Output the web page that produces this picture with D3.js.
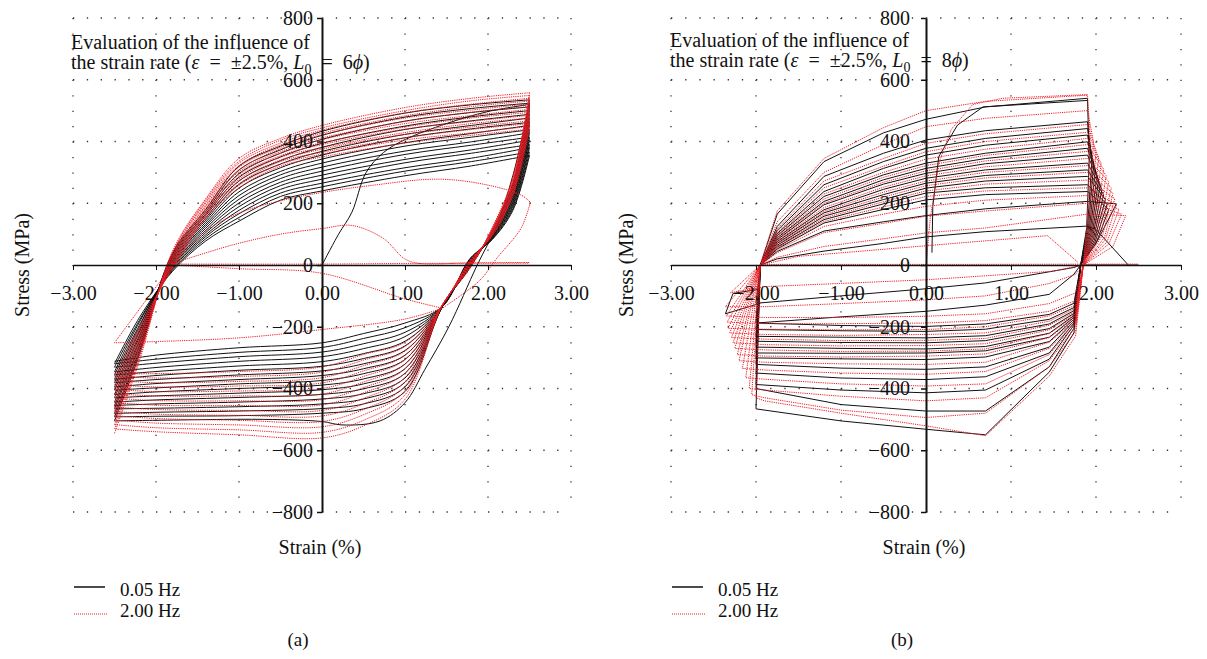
<!DOCTYPE html>
<html>
<head>
<meta charset="utf-8">
<script src="https://cdn.jsdelivr.net/npm/d3@7.9.0/dist/d3.min.js"></script>
<style>
  body { margin: 0; background: #fff; }
  svg text { font-family: "Liberation Serif", "DejaVu Serif", serif; fill: #111; }
</style>
</head>
<body>
<svg id="chart" width="1207" height="659"></svg>
<script>
const strainTicks = [-3, -2, -1, 0, 1, 2, 3];
const stressTicks = [-800, -600, -400, -200, 0, 200, 400, 600, 800];
const legendLabels = ['0.05 Hz', '2.00 Hz'];

// ---- panel (a), L0 = 6phi : stress (MPa) read at fixed strain stations (%)
const upStrainA = [-2.5, -2.2, -1.8, -1.4, -1.0, -0.5, 0, 1.0, 1.8, 2.5];
const downStrainA = [2.5, 2.3, 2.05, 1.78, 1.45, 1.0, 0.5, 0, -1.0, -2.0, -2.5];

const blackUpA = [
  [-505, -290, 40, 180, 320, 385, 433, 492, 519, 535],
  [-492, -281, 36, 173, 308, 373, 420, 479, 507, 524],
  [-481, -275, 32, 166, 296, 362, 407, 466, 494, 512],
  [-466, -265, 28, 160, 284, 350, 394, 450, 480, 500],
  [-455, -259, 24, 153, 272, 338, 381, 439, 467, 488],
  [-444, -249, 20, 146, 261, 327, 368, 423, 452, 476],
  [-430, -243, 16, 139, 249, 315, 356, 412, 441, 462],
  [-420, -233, 12, 132, 237, 303, 343, 396, 426, 452],
  [-405, -227, 8, 126, 225, 292, 330, 385, 414, 438],
  [-395, -217, 4, 119, 213, 280, 317, 369, 399, 428],
  [-381, -211, 0, 112, 201, 268, 304, 358, 388, 414],
  [-370, -201, -4, 105, 189, 257, 291, 342, 373, 404],
  [-356, -195, -8, 98, 177, 245, 278, 331, 362, 390],
  [-346, -185, -12, 92, 166, 233, 265, 315, 346, 380],
  [-331, -179, -16, 85, 154, 222, 253, 304, 335, 366],
  [-320, -170, -20, 78, 142, 210, 240, 289, 321, 355]
];
const blackDownA = [
  [535, 265, 112, -10, -135, -410, -466, -480, -488, -490, -492],
  [524, 262, 110, -8, -135, -395, -450, -465, -473, -477, -481],
  [512, 256, 108, -6, -135, -380, -434, -450, -459, -464, -466],
  [500, 250, 106, -4, -135, -366, -417, -434, -444, -450, -455],
  [488, 244, 104, -2, -135, -351, -401, -419, -429, -437, -444],
  [476, 238, 102, 0, -135, -336, -385, -404, -415, -424, -430],
  [462, 231, 100, 2, -135, -321, -369, -389, -400, -411, -420],
  [452, 226, 98, 4, -135, -306, -352, -374, -385, -398, -405],
  [438, 219, 96, 6, -135, -292, -336, -358, -371, -384, -395],
  [428, 214, 94, 8, -135, -277, -320, -343, -356, -371, -381],
  [414, 207, 92, 10, -135, -262, -303, -328, -341, -358, -370],
  [404, 202, 90, 12, -135, -247, -287, -313, -327, -345, -356],
  [390, 195, 88, 14, -135, -232, -271, -297, -312, -332, -346],
  [380, 190, 86, 16, -135, -218, -255, -282, -297, -318, -331],
  [366, 183, 84, 18, -135, -203, -238, -267, -283, -305, -320],
  [355, 177, 82, 20, -135, -188, -222, -252, -268, -292, -312]
];
const redUpA = [
  [-545, -310, 45, 215, 345, 410, 452, 510, 540, 558],
  [-531, -301, 41, 211, 336, 404, 444, 500, 532, 549],
  [-517, -293, 37, 205, 330, 395, 437, 493, 521, 540],
  [-502, -284, 33, 201, 322, 389, 427, 483, 513, 531],
  [-488, -276, 28, 194, 317, 381, 422, 476, 502, 522],
  [-474, -267, 24, 190, 307, 376, 412, 465, 495, 513],
  [-460, -259, 20, 184, 302, 367, 406, 458, 484, 504],
  [-445, -250, 16, 181, 293, 362, 396, 447, 476, 494],
  [-431, -242, 11, 174, 287, 354, 390, 440, 465, 485],
  [-417, -233, 7, 171, 278, 349, 380, 429, 458, 476],
  [-403, -225, 3, 164, 273, 340, 375, 423, 447, 467],
  [-388, -216, -2, 161, 263, 335, 365, 412, 439, 458],
  [-374, -208, -6, 154, 258, 326, 359, 405, 428, 449],
  [-360, -200, -10, 150, 250, 320, 350, 395, 420, 440]
];
const redDownA = [
  [558, 285, 120, -12, -130, -435, -521, -560, -550, -540, -531],
  [549, 280, 118, -10, -130, -421, -503, -542, -534, -527, -517],
  [540, 276, 116, -8, -130, -407, -485, -524, -518, -512, -502],
  [531, 271, 114, -6, -130, -392, -468, -507, -503, -497, -488],
  [522, 266, 112, -4, -130, -378, -450, -489, -487, -483, -474],
  [513, 262, 110, -2, -130, -364, -432, -471, -471, -468, -460],
  [504, 257, 108, 0, -130, -350, -414, -453, -455, -454, -445],
  [494, 252, 106, 2, -130, -336, -397, -436, -440, -439, -431],
  [485, 247, 104, 4, -130, -321, -379, -418, -424, -424, -417],
  [476, 243, 102, 6, -130, -307, -361, -400, -408, -410, -403],
  [467, 238, 100, 8, -130, -293, -343, -382, -392, -395, -388],
  [458, 233, 98, 10, -130, -279, -326, -365, -377, -381, -374],
  [449, 229, 96, 12, -130, -264, -308, -347, -361, -366, -360],
  [440, 224, 94, 14, -130, -250, -290, -330, -345, -352, -352]
];
// first loading and first reversal, plus the odd early 2 Hz traces
const blackExtraA = [
  [[0, 0], [0.2, 100], [0.36, 171], [0.53, 299], [0.74, 364], [1.0, 406], [1.5, 458], [2.0, 497], [2.5, 520]],
  [[2.5, 520], [2.3, 290], [2.1, 125], [1.87, 0], [1.53, -199], [1.24, -338], [1.0, -446], [0.7, -505], [0.24, -518], [0, -507], [-0.7, -500], [-2.0, -503], [-2.5, -505]]
];
const redExtraA = [
  [[1.45, -140], [1.0, -175], [0, -209], [-1.0, -236], [-2.0, -248], [-2.5, -252]],
  [[-2.5, -252], [-2.15, -125], [-1.8, 0]],
  [[-1.8, 0], [-1.4, 110], [-1.0, 168], [-0.5, 208], [0, 235], [0.575, 257], [1.41, 278], [2.03, 257], [2.41, 225], [2.51, 203]],
  [[2.51, 203], [2.4, 120], [2.1, 20], [1.9, -50], [1.45, -140]],
  [[-1.8, 5], [-1.09, 64], [-0.5, 100], [0, 118], [0.36, 128], [0.74, 86], [0.99, 21], [1.15, 6], [1.8, 7], [2.5, 8]],
  [[-1.8, 0], [-1.0, -12], [0, -27], [1.0, -110], [1.45, -140]],
  [[-1.8, 3], [0, 3], [1.0, 5], [2.5, 6]]
];

// ---- panel (b), L0 = 8phi : polyline vertices
const upStrainB = [-1.95, -1.75, -1.2, -0.5, 0, 0.7, 1.9];
const downStrainBlackB = [1.82, 1.74, 1.45, 0.7, 0, -1.0, -2.0];
const downStrainRedB = [1.85, 1.76, 1.45, 0.7, 0, -1.0, -1.9];

const blackUpB = [
  [0, 165, 335, 428, 472, 512, 540],
  [0, 125, 287, 362, 405, 435, 464],
  [0, 112, 260, 335, 378, 410, 442],
  [0, 102, 238, 313, 356, 388, 421],
  [0, 95, 222, 292, 330, 362, 399],
  [0, 88, 206, 276, 313, 345, 378],
  [0, 82, 195, 262, 297, 328, 356],
  [0, 76, 179, 245, 281, 308, 330],
  [0, 70, 169, 228, 265, 290, 308],
  [0, 64, 158, 212, 249, 272, 287],
  [0, 58, 147, 198, 233, 250, 260],
  [0, 52, 136, 180, 211, 228, 238],
  [0, 44, 110, 140, 160, 182, 206],
  [0, 20, 45, 70, 91, 108, 126]
];
// peak tip [strain, stress] and knee on the way back [strain, stress]
const blackTipB = [
  [1.92, 340, 1.89, 120], [1.95, 330, 1.90, 120], [1.97, 320, 1.91, 115],
  [1.99, 305, 1.92, 110], [2.01, 290, 1.93, 105], [2.03, 275, 1.94, 100],
  [2.05, 260, 1.95, 95], [2.07, 245, 1.96, 90], [2.09, 228, 1.97, 85],
  [2.11, 212, 1.98, 80], [2.13, 196, 1.99, 75], [2.15, 180, 2.00, 70],
  [2.24, 198, 2.02, 80], [2.00, 115, 2.38, 0]
];
const blackDownB = [
  [0, -220, -347, -550, -532, -505, -466],
  [0, -205, -330, -473, -473, -452, -400],
  [0, -195, -305, -405, -414, -405, -387],
  [0, -188, -285, -362, -371, -366, -350],
  [0, -182, -266, -330, -338, -334, -322],
  [0, -176, -248, -298, -306, -304, -301],
  [0, -170, -234, -278, -285, -286, -285],
  [0, -164, -221, -264, -272, -270, -266],
  [0, -157, -206, -245, -252, -251, -247],
  [0, -148, -191, -229, -236, -234, -231],
  [0, -138, -176, -208, -215, -213, -209],
  [0, -124, -160, -191, -199, -196, -188],
  [0, -30, -95, -130, -150, -168, -188],
  [0, -8, -22, -58, -77, -100, -124]
];
const redUpB = [
  [0, 175, 345, 445, 500, 530, 550],
  [0, 140, 300, 390, 448, 475, 500],
  [0, 118, 272, 345, 394, 425, 455],
  [0, 106, 250, 320, 367, 400, 430],
  [0, 98, 230, 300, 343, 375, 410],
  [0, 91, 214, 284, 322, 355, 390],
  [0, 85, 200, 268, 305, 337, 368],
  [0, 79, 186, 252, 289, 318, 345],
  [0, 73, 174, 236, 272, 300, 322],
  [0, 67, 163, 220, 257, 282, 300],
  [0, 61, 152, 205, 240, 262, 275],
  [0, 55, 141, 188, 222, 240, 250],
  [0, 48, 125, 165, 190, 210, 225],
  [0, 40, 105, 135, 158, 175, 200],
  [0, 25, 60, 85, 104, 120, 165]
];
const redTipB = [
  [1.93, 420, 1.90, 150], [1.97, 400, 1.92, 150], [2.00, 370, 1.94, 140],
  [2.03, 350, 1.96, 135], [2.06, 330, 1.98, 130], [2.09, 310, 2.00, 125],
  [2.12, 290, 2.02, 120], [2.15, 270, 2.04, 112], [2.18, 250, 2.06, 105],
  [2.20, 232, 2.08, 98], [2.22, 215, 2.10, 90], [2.24, 195, 2.11, 82],
  [2.27, 180, 2.13, 75], [2.30, 165, 2.15, 68], [2.35, 160, 2.20, 60]
];
const redDownB = [
  [0, -230, -360, -553, -521, -480, -440],
  [0, -215, -330, -480, -494, -470, -430],
  [0, -200, -310, -430, -440, -425, -405],
  [0, -190, -290, -385, -392, -385, -370],
  [0, -185, -270, -345, -354, -350, -340],
  [0, -178, -250, -315, -322, -320, -315],
  [0, -172, -235, -288, -295, -298, -295],
  [0, -165, -222, -272, -279, -280, -275],
  [0, -158, -210, -255, -261, -262, -258],
  [0, -150, -195, -238, -244, -245, -240],
  [0, -140, -182, -220, -225, -228, -225],
  [0, -130, -165, -200, -209, -210, -208],
  [0, -115, -150, -180, -188, -190, -190],
  [0, -90, -125, -158, -166, -170, -170],
  [0, -30, -60, -100, -113, -125, -135]
];
const redLeftTipB = [
  [-2.0, -430], [-2.05, -420], [-2.08, -400], [-2.12, -365], [-2.16, -335],
  [-2.2, -310], [-2.22, -290], [-2.25, -270], [-2.27, -252], [-2.29, -235],
  [-2.31, -220], [-2.33, -205], [-2.34, -185], [-2.35, -165], [-2.36, -135]
];
const blackExtraB = [
  [[0.07, 40], [0.08, 190], [0.15, 351], [0.37, 453], [0.67, 512], [1.9, 533]],
  [[2.38, 0], [2.5, 0]],
  [[-1.95, -124], [-2.36, -158], [-2.27, -92], [-1.95, -78]]
];
const redExtraB = [
  [[0.0, 0], [0.05, 150], [0.15, 330], [0.3, 440], [0.55, 520], [0.9, 540], [1.9, 552]],
  [[-1.95, 0], [-1.5, 28], [1.43, 95], [1.79, 8]],
  [[-1.95, 2], [0.5, 2], [2.5, 3]],
  [[1.85, 0], [1.5, -20], [0, -48], [-1.9, -70], [-2.3, -90], [-1.95, 0]]
];

const svg = d3.select('#chart');
const y = d3.scaleLinear().domain([-800, 800]).range([512, 18]);
const xA = d3.scaleLinear().domain([-3, 3]).range([73, 571]);
const xB = d3.scaleLinear().domain([-3, 3]).range([671, 1181]);

const blackStyle = { stroke: '#111', width: 1, dash: null };
const redStyle = { stroke: '#ee1c24', width: 1, dash: '1.2,1' };

function drawGrid(x) {
    let grid = svg.append('g');
    strainTicks.filter(d => d !== 0).forEach(d => {
        grid.append('line')
            .attr('x1', x(d)).attr('x2', x(d))
            .attr('y1', y(800)).attr('y2', y(-800))
            .attr('stroke', '#333').attr('stroke-width', 1.3)
            .attr('stroke-dasharray', `1.3,${(y(0) - y(50)) - 1.3}`);
    });
    stressTicks.filter(d => d !== 0).forEach(d => {
        grid.append('line')
            .attr('x1', x(-3)).attr('x2', x(3))
            .attr('y1', y(d)).attr('y2', y(d))
            .attr('stroke', '#333').attr('stroke-width', 1.3)
            .attr('stroke-dasharray', `1.3,${(x(3) - x(-3)) / 36 - 1.3}`);
    });
}

function drawPaths(g, line, paths, style) {
    paths.forEach(pts => {
        g.append('path')
            .attr('d', line(pts))
            .attr('fill', 'none')
            .attr('stroke', style.stroke)
            .attr('stroke-width', style.width)
            .attr('stroke-dasharray', style.dash);
    });
}

function drawAxes(x, pad) {
    let xAxis = svg.append('g')
        .attr('transform', `translate(0,${y(0)})`)
        .call(d3.axisBottom(x).tickValues(strainTicks).tickSize(5).tickSizeOuter(0)
            .tickPadding(16).tickFormat(d3.format('.2f')));
    let yAxis = svg.append('g')
        .attr('transform', `translate(${x(0)},0)`)
        .call(d3.axisLeft(y).tickValues(stressTicks).tickSize(5).tickSizeOuter(0)
            .tickPadding(pad).tickFormat(d3.format('d')));
    [xAxis, yAxis].forEach(a => {
        a.attr('font-family', null).attr('font-size', null);
        a.selectAll('text').attr('font-size', 20).attr('fill', '#111');
        a.selectAll('line').attr('stroke', '#111');
    });
    xAxis.select('.domain').attr('stroke', '#111').attr('stroke-width', 1.3);
    yAxis.select('.domain').attr('stroke', '#111').attr('stroke-width', 2);
    yAxis.selectAll('.tick line').attr('stroke-width', 1.5);
}

function drawText(x, dx, titleY, symbol, caption) {
    const sp = '\u2002';
    let t = svg.append('text').attr('x', x(-3) - 2 + dx).attr('y', titleY).attr('font-size', 20);
    t.append('tspan').text('Evaluation of the influence of');
    let t2 = svg.append('text').attr('x', x(-3) - 2 + dx).attr('y', titleY + 19.5).attr('font-size', 20);
    t2.append('tspan').text('the strain rate (');
    t2.append('tspan').attr('font-style', 'italic').text('ε');
    t2.append('tspan').text(sp + '=' + sp + '±2.5%, ');
    t2.append('tspan').attr('font-style', 'italic').text('L');
    t2.append('tspan').attr('font-size', 14).attr('dy', 5).text('0');
    t2.append('tspan').attr('dy', -5).text(sp + '=' + sp + symbol);
    t2.append('tspan').attr('font-style', 'italic').text('ϕ');
    t2.append('tspan').text(')');

    let cx = x(0);
    svg.append('text')
        .attr('transform', `translate(${cx - 293},265) rotate(-90)`)
        .attr('text-anchor', 'middle').attr('font-size', 20)
        .text('Stress (MPa)');
    svg.append('text')
        .attr('x', cx - 2).attr('y', 554)
        .attr('text-anchor', 'middle').attr('font-size', 20)
        .text('Strain (%)');
    svg.append('text')
        .attr('x', cx - 24).attr('y', 646)
        .attr('text-anchor', 'middle').attr('font-size', 19)
        .text(caption);

    // legend
    let lx = x(-3) + 1;
    let leg = svg.append('g');
    leg.append('line').attr('x1', lx).attr('x2', lx + 31).attr('y1', 587).attr('y2', 587)
        .attr('stroke', '#111').attr('stroke-width', 1.5);
    leg.append('line').attr('x1', lx).attr('x2', lx + 34).attr('y1', 614).attr('y2', 614)
        .attr('stroke', redStyle.stroke).attr('stroke-width', 1).attr('stroke-dasharray', '1,1');
    leg.append('text').attr('x', lx + 46).attr('y', 596).attr('font-size', 19).text(legendLabels[0]);
    leg.append('text').attr('x', lx + 46).attr('y', 617).attr('font-size', 19).text(legendLabels[1]);
}

// ---------- panel (a)
drawGrid(xA);
let gA = svg.append('g');
let lineA = d3.line().x(d => xA(d[0])).y(d => y(d[1])).curve(d3.curveCatmullRom.alpha(0.5));
let zipA = (strains, row) => strains.map((s, i) => [s, row[i]]);
let blackPathsA = [];
blackUpA.forEach((row, k) => {
    blackPathsA.push(zipA(upStrainA, row));
    blackPathsA.push(zipA(downStrainA, blackDownA[k]));
});
let redPathsA = [];
redUpA.forEach((row, k) => {
    redPathsA.push(zipA(upStrainA, row));
    redPathsA.push(zipA(downStrainA, redDownA[k]));
});
drawPaths(gA, lineA, blackPathsA.concat(blackExtraA), blackStyle);
drawPaths(gA, lineA, redPathsA.concat(redExtraA), redStyle);
drawAxes(xA, 4);
drawText(xA, 0, 49, '6', '(a)');

// ---------- panel (b)
drawGrid(xB);
let gB = svg.append('g');
let lineB = d3.line().x(d => xB(d[0])).y(d => y(d[1]));
function loopB(up, tip, down, downStrain, leftTip) {
    let pts = upStrainB.map((s, i) => [s, up[i]]);
    pts.push([tip[0], tip[1]], [tip[2], tip[3]]);
    downStrain.forEach((s, i) => pts.push([s, down[i]]));
    if (leftTip) pts.push(leftTip);
    pts.push([-1.95, 0]);
    return pts;
}
let blackPathsB = blackUpB.map((row, k) => loopB(row, blackTipB[k], blackDownB[k], downStrainBlackB, null));
let redPathsB = redUpB.map((row, k) => loopB(row, redTipB[k], redDownB[k], downStrainRedB, redLeftTipB[k]));
drawPaths(gB, lineB, blackPathsB.concat(blackExtraB), blackStyle);
drawPaths(gB, lineB, redPathsB.concat(redExtraB), redStyle);
drawAxes(xB, 11);
drawText(xB, 1, 47, '8', '(b)');
</script>
</body>
</html>
